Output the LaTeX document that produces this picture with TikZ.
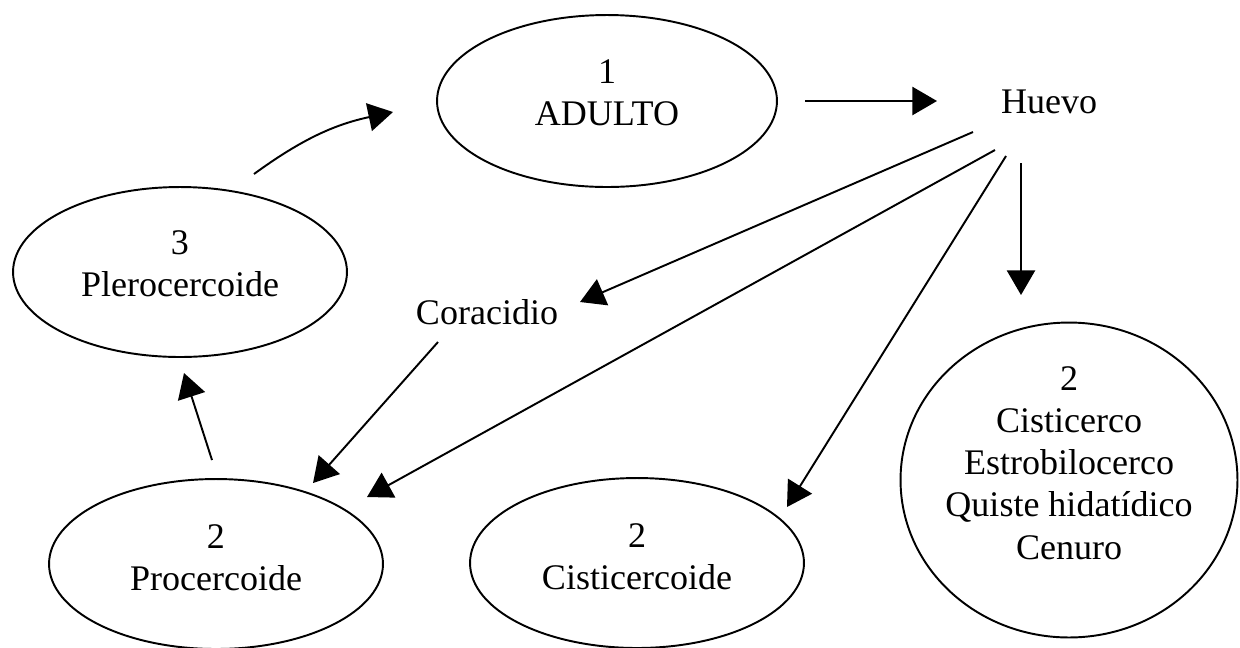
\documentclass[tikz,border=0pt]{standalone}
\usepackage{fontspec}
\setmainfont{Liberation Serif}
\usepackage{tikz}
\usetikzlibrary{arrows.meta,shapes,calc}
\tikzstyle{stage}=[ellipse,draw,line width=1.1pt,minimum width=6.68cm,minimum height=3.4cm,inner sep=0pt]
\tikzstyle{plain}=[inner sep=0pt,align=center]
\tikzstyle{edge} = [draw,line width=1.1pt,-{Triangle[length=14pt,width=16pt]}]

\begin{document}
\begin{tikzpicture}[x=0.02cm,y=-0.02cm,font=\fontsize{20.5}{24}\selectfont]
        \useasboundingbox (0,0) rectangle (1240,647);
        \node[stage,minimum width=6.8cm,minimum height=3.44cm] (adulto) at (607,101) {};
        \node[stage] (plero) at (180,272) {};
        \node[stage] (proc) at (216,564) {};
        \node[stage] (cistoide) at (637,563) {};
        \node[stage,minimum width=6.74cm,minimum height=6.3cm] (cisto) at (1069,480) {};
        % texts
        \node[plain] (adulto txt) at ($(adulto.center)+(0,-8)$) {1\\ADULTO};
        \node[plain] (plero txt) at ($(plero.center)+(0,-8)$) {3\\Plerocercoide};
        \node[plain] (proc txt) at ($(proc.center)+(0,-6)$) {2\\Procercoide};
        \node[plain] (cistoide txt) at ($(cistoide.center)+(0,-6)$) {2\\Cisticercoide};
        \node[plain] (cisto txt) at ($(cisto.center)+(0,-17)$) {2\\Cisticerco\\Estrobilocerco\\Quiste hidatídico\\Cenuro};
        \node[plain] (huevo) at (1049,102) {Huevo};
        \node[plain] (cora) at (487,312) {Coracidio};
        \draw[edge] ($(adulto.center)+(198,0)$) to ($(huevo.center)+(-112,-1)$);
        \draw[edge] ($(plero.center)+(74,-98)$) to[bend left=12] ($(adulto.center)+(-214,11)$);
        \draw[edge] ($(huevo.center)+(-76,30)$) to ($(cora.center)+(93,-10)$);
        \draw[edge] ($(huevo.center)+(-54,48)$) to ($(proc.center)+(151,-67)$);
        \draw[edge] ($(huevo.center)+(-43,54)$) to ($(cistoide.center)+(150,-56)$);
        \draw[edge] ($(huevo.center)+(-28,61)$) to ($(cisto.center)+(-48,-185)$);
        \draw[edge] ($(cora.center)+(-49,30)$) to ($(proc.center)+(97,-81)$);
        \draw[edge] ($(proc.center)+(-4,-104)$) to ($(plero.center)+(4,101)$);
      \end{tikzpicture}
\end{document}
